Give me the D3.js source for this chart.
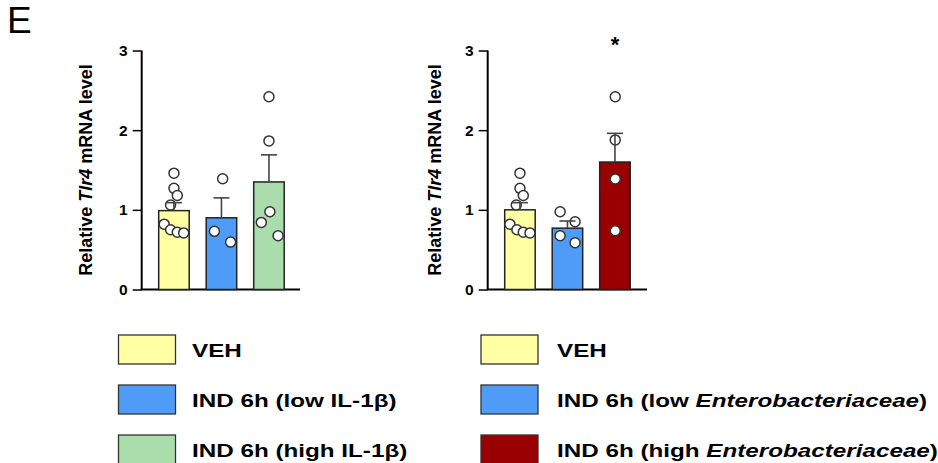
<!DOCTYPE html>
<html>
<head>
<meta charset="utf-8">
<script src="https://cdn.jsdelivr.net/npm/d3@7"></script>
<style>
  html, body { margin: 0; padding: 0; background: #fff; }
  svg { display: block; font-family: "Liberation Sans", Arial, sans-serif; }
</style>
</head>
<body>
<svg id="chart" width="938" height="463"></svg>
<script>
// ---- data ----
const yTicks = [0, 1, 2, 3];

const leftGroups = ["VEH", "IND 6h (low IL-1β)", "IND 6h (high IL-1β)"];
const leftMeans = [0.99, 0.90, 1.35];
const leftSem = [0.10, 0.25, 0.34];
const leftPoints = [
  [1.46, 1.27, 1.18, 1.06, 0.82, 0.75, 0.72, 0.71],
  [1.39, 0.73, 0.595],
  [2.42, 1.865, 0.976, 0.842, 0.674]
];
// horizontal jitter of each point within its bar, as a fraction of the bar width
const leftJitter = [
  [0.50, 0.50, 0.61, 0.39, 0.18, 0.39, 0.61, 0.82],
  [0.54, 0.27, 0.80],
  [0.50, 0.50, 0.53, 0.25, 0.80]
];

const rightGroups = ["VEH", "IND 6h (low Enterobacteriaceae)", "IND 6h (high Enterobacteriaceae)"];
const rightMeans = [1.00, 0.77, 1.60];
const rightSem = [0.09, 0.09, 0.36];
const rightPoints = [
  [1.46, 1.27, 1.18, 1.06, 0.82, 0.75, 0.72, 0.71],
  [0.976, 0.85, 0.674, 0.587],
  [2.42, 1.878, 1.387, 0.737]
];
const rightJitter = [
  [0.50, 0.50, 0.61, 0.38, 0.17, 0.40, 0.61, 0.83],
  [0.26, 0.75, 0.26, 0.75],
  [0.51, 0.51, 0.51, 0.51]
];

const leftColors = ["#ffffa3", "#4e9cf8", "#aadcac"];
const rightColors = ["#ffffa3", "#4e9cf8", "#9b0000"];

const FONT = "Liberation Sans, Arial, sans-serif";
const svg = d3.select("#chart");

// panel letter
svg.append("text")
  .attr("x", 7).attr("y", 33)
  .attr("font-size", 37)
  .attr("font-family", FONT)
  .text("E");

function panel(opts) {
  const { x0, x1, groups, means, sem, points, jitter, colors, labelX, star } = opts;
  const y = d3.scaleLinear().domain([0, 3]).range([289.5, 50.5]);
  // bars ~30.5px wide on a 47.5px step, first bar 17px right of the axis
  const x = d3.scaleBand().domain(groups)
    .range([x0 + 17, x0 + 17 + 125.5])
    .paddingInner(0.358).paddingOuter(0);

  const g = svg.append("g");

  // y axis
  const yAxis = d3.axisLeft(y).tickValues(yTicks).tickSize(9).tickPadding(5).tickFormat(d3.format("d"));
  const ya = g.append("g").attr("transform", `translate(${x0},0)`).call(yAxis);
  ya.select(".domain").attr("stroke", "#000").attr("stroke-width", 2).attr("d", `M0,${y(3)}V${y(0)}`);
  ya.selectAll(".tick line").attr("stroke", "#000").attr("stroke-width", 1.5);
  ya.selectAll(".tick text")
    .attr("font-size", 15.5).attr("font-weight", "bold").attr("fill", "#000")
    .attr("font-family", FONT);

  // x axis baseline
  g.append("line")
    .attr("x1", x0 - 1).attr("x2", x1).attr("y1", y(0)).attr("y2", y(0))
    .attr("stroke", "#000").attr("stroke-width", 2);

  // y axis title
  const t = g.append("text")
    .attr("transform", `translate(${labelX},${y(1.5)}) rotate(-90)`)
    .attr("text-anchor", "middle")
    .attr("font-size", 18).attr("font-weight", "bold")
    .attr("font-family", FONT);
  t.append("tspan").text("Relative ");
  t.append("tspan").attr("font-style", "italic").text("Tlr4");
  t.append("tspan").text(" mRNA level");

  // bars
  g.selectAll("rect.bar").data(groups).join("rect")
    .attr("class", "bar")
    .attr("x", d => x(d))
    .attr("width", x.bandwidth())
    .attr("y", (d, i) => y(means[i]))
    .attr("height", (d, i) => y(0) - y(means[i]))
    .attr("fill", (d, i) => colors[i])
    .attr("stroke", "#222").attr("stroke-width", 1.5);

  // individual points
  groups.forEach((grp, i) => {
    g.selectAll(null).data(points[i]).join("circle")
      .attr("cx", (d, j) => x(grp) + jitter[i][j] * x.bandwidth())
      .attr("cy", d => y(d))
      .attr("r", 5)
      .attr("fill", "#fff")
      .attr("stroke", "#333").attr("stroke-width", 1.5);
  });

  // SEM error bars (upper only)
  groups.forEach((grp, i) => {
    const cx = x(grp) + x.bandwidth() / 2;
    g.append("line")
      .attr("x1", cx).attr("x2", cx)
      .attr("y1", y(means[i])).attr("y2", y(means[i] + sem[i]))
      .attr("stroke", "#444").attr("stroke-width", 1.6);
    g.append("line")
      .attr("x1", cx - 8).attr("x2", cx + 8)
      .attr("y1", y(means[i] + sem[i])).attr("y2", y(means[i] + sem[i]))
      .attr("stroke", "#444").attr("stroke-width", 1.6);
  });

  if (star !== undefined) {
    const cx = x(groups[star]) + x.bandwidth() / 2;
    g.append("text")
      .attr("x", cx).attr("y", 51.5)
      .attr("text-anchor", "middle")
      .attr("font-size", 22).attr("font-weight", "bold")
      .attr("font-family", FONT)
      .text("*");
  }
}

panel({ x0: 141.7, x1: 300, groups: leftGroups, means: leftMeans, sem: leftSem,
  points: leftPoints, jitter: leftJitter, colors: leftColors, labelX: 92 });
panel({ x0: 487.7, x1: 647, groups: rightGroups, means: rightMeans, sem: rightSem,
  points: rightPoints, jitter: rightJitter, colors: rightColors, labelX: 441, star: 2 });

// legends (labels set in a horizontally widened bold face)
function legend(x0, textX, groups, colors, italicWord) {
  const rows = [335, 385, 435];
  groups.forEach((grp, i) => {
    svg.append("rect")
      .attr("x", x0).attr("y", rows[i])
      .attr("width", 57).attr("height", 29)
      .attr("fill", colors[i])
      .attr("stroke", "#333").attr("stroke-width", 1.3);
    const t = svg.append("text")
      .attr("transform", `translate(${textX},${rows[i] + 21.5}) scale(1.31,1)`)
      .attr("font-size", 18.5).attr("font-weight", "bold")
      .attr("font-family", FONT);
    if (italicWord && grp.includes(italicWord)) {
      const [a, b] = grp.split(italicWord);
      t.append("tspan").text(a);
      t.append("tspan").attr("font-style", "italic").text(italicWord);
      t.append("tspan").text(b);
    } else {
      t.text(grp);
    }
  });
}
legend(118.5, 192, leftGroups, leftColors);
legend(481, 557, rightGroups, rightColors, "Enterobacteriaceae");
</script>
</body>
</html>
